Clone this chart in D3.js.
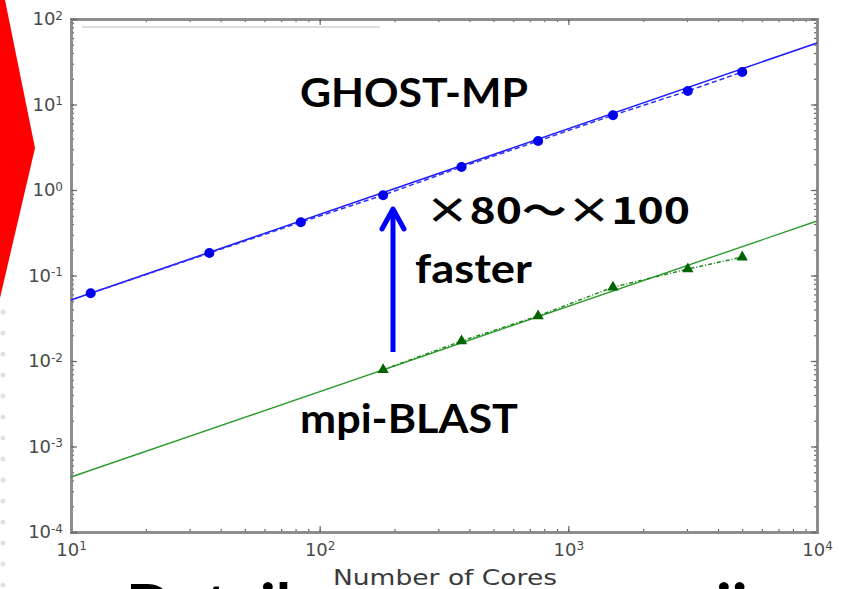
<!DOCTYPE html>
<html><head><meta charset="utf-8">
<script src="https://cdn.jsdelivr.net/npm/d3@7"></script>
<style>body{margin:0;background:#fff;} svg{display:block;}</style>
</head><body>
<svg id="c" width="848" height="589"></svg>
<script>
// Data
const ghostCores = [12, 36, 84, 180, 372, 756, 1512, 3024, 5004];
const ghostSpeed = [0.062, 0.183, 0.42, 0.87, 1.86, 3.74, 7.5, 14.4, 24.0];
const blastCores = [180, 372, 756, 1512, 3024, 5004];
const blastSpeed = [0.0079, 0.0171, 0.0336, 0.073, 0.119, 0.164];
const fitCores = [10, 10000];
const ghostFit = [0.0516, 52.4];
const blastFit = [0.00044, 0.434];
const xMajor = [10, 100, 1000, 10000];
const yMajor = [1e-4, 1e-3, 1e-2, 1e-1, 1, 10, 100];
const xLabel = "Number of Cores";

const svg = d3.select("#c");
const L = 71, R = 817, T = 19, B = 532;
const x = d3.scaleLog().domain([10, 1e4]).range([L, R]);
const y = d3.scaleLog().domain([1e-4, 1e2]).range([B, T]);

// red slide shape on left
svg.append("path").attr("d", "M0,0 L5,0 L35,148 L0,298 Z").attr("fill", "#ff0000");
// slide border dots
d3.range(0, 14).forEach(i => {
  svg.append("circle").attr("cx", 3).attr("cy", 312 + i * 21).attr("r", 2.5).attr("fill", "#e2e2e2");
});

function supLabel(sel) {
  sel.each(function(d) {
    const t = d3.select(this);
    const e = Math.round(Math.log10(d));
    t.text("10");
    t.append("tspan").attr("dy", "-0.45em").attr("font-size", "12px").text(String(e));
  });
}
const axColor = "#8a8a8a";
function styleAxis(g) {
  g.select(".domain").attr("stroke", axColor).attr("stroke-width", 2.5);
  g.selectAll(".tick line").attr("stroke", "#666").attr("stroke-width", 1.2);
  g.selectAll("text").attr("fill", "#4a4a4a").attr("font-family", "DejaVu Sans").attr("font-size", "18px");
}
const allX = x.ticks(), allY = y.ticks();
// minor ticks
svg.append("g").attr("transform", `translate(0,${B})`).call(d3.axisBottom(x).tickValues(allX).tickSize(-3).tickFormat("")).call(styleAxis);
svg.append("g").attr("transform", `translate(0,${T})`).call(d3.axisTop(x).tickValues(allX).tickSize(-3).tickFormat("")).call(styleAxis);
svg.append("g").attr("transform", `translate(${L},0)`).call(d3.axisLeft(y).tickValues(allY).tickSize(-3).tickFormat("")).call(styleAxis);
svg.append("g").attr("transform", `translate(${R},0)`).call(d3.axisRight(y).tickValues(allY).tickSize(-3).tickFormat("")).call(styleAxis);
// major ticks
const gx = svg.append("g").attr("transform", `translate(0,${B})`).call(d3.axisBottom(x).tickValues(xMajor).tickSize(-6).tickPadding(11)).call(styleAxis);
gx.selectAll(".tick text").call(supLabel);
svg.append("g").attr("transform", `translate(0,${T})`).call(d3.axisTop(x).tickValues(xMajor).tickSize(-6).tickFormat("")).call(styleAxis);
const gy = svg.append("g").attr("transform", `translate(${L},0)`).call(d3.axisLeft(y).tickValues(yMajor).tickSize(-6).tickPadding(8)).call(styleAxis);
gy.selectAll(".tick text").call(supLabel);
svg.append("g").attr("transform", `translate(${R},0)`).call(d3.axisRight(y).tickValues(yMajor).tickSize(-6).tickFormat("")).call(styleAxis);

// legend frame remnant
svg.append("line").attr("x1", 82).attr("x2", 380).attr("y1", 27).attr("y2", 27).attr("stroke", "#bbb").attr("stroke-width", 1);

const plot = svg.append("g");
const line = d3.line().x(d => x(d[0])).y(d => y(d[1]));
// fit lines
plot.append("path").attr("d", line(d3.zip(fitCores, ghostFit))).attr("fill", "none").attr("stroke", "#1a1aff").attr("stroke-width", 1.6);
plot.append("path").attr("d", line(d3.zip(fitCores, blastFit))).attr("fill", "none").attr("stroke", "#2e9a2e").attr("stroke-width", 1.4);
// data lines
plot.append("path").attr("d", line(d3.zip(ghostCores, ghostSpeed))).attr("fill", "none").attr("stroke", "#3030ff").attr("stroke-width", 1.5).attr("stroke-dasharray", "5,3");
plot.append("path").attr("d", line(d3.zip(blastCores, blastSpeed))).attr("fill", "none").attr("stroke", "#1e8a1e").attr("stroke-width", 1.5).attr("stroke-dasharray", "4,2,1,2");
// markers
plot.selectAll("circle.g").data(d3.zip(ghostCores, ghostSpeed)).enter().append("circle")
  .attr("cx", d => x(d[0])).attr("cy", d => y(d[1])).attr("r", 5).attr("fill", "#0000ee");
const tri = d3.symbol().type(d3.symbolTriangle).size(55);
plot.selectAll("path.t").data(d3.zip(blastCores, blastSpeed)).enter().append("path")
  .attr("d", tri).attr("transform", d => `translate(${x(d[0])},${y(d[1])})`).attr("fill", "#006400");

// slide text cut at bottom
svg.append("text").attr("x", 126).attr("y", 628).attr("font-family", "Lato").attr("font-weight", "bold").attr("font-size", "62px").attr("fill", "#000").text("Detail");
svg.append("text").attr("x", 716).attr("y", 628).attr("font-family", "Lato").attr("font-weight", "bold").attr("font-size", "62px").attr("fill", "#000").text("ii");

// x label
svg.append("text").attr("x", 445).attr("y", 585).attr("text-anchor", "middle")
  .attr("font-family", "DejaVu Sans").attr("font-size", "22px").attr("fill", "#3a3a3a")
  .attr("textLength", 224).attr("lengthAdjust", "spacingAndGlyphs").text(xLabel);

// annotations
const ann = (t, xx, yy, fs, len, fam) => svg.append("text").attr("x", xx).attr("y", yy)
  .attr("font-family", fam || "Lato").attr("font-weight", "bold").attr("font-size", fs + "px").attr("fill", "#000")
  .attr("textLength", len).attr("lengthAdjust", "spacingAndGlyphs").text(t);
ann("GHOST-MP", 300, 107, 41, 228);
ann("\u00D780\uFF5E\u00D7100", 425, 224, 36, 265, "Noto Sans CJK JP");
ann("faster", 415, 283, 40, 117);
ann("mpi-BLAST", 300, 433, 41, 218);

// blue arrow
svg.append("line").attr("x1", 393).attr("x2", 393).attr("y1", 352).attr("y2", 210).attr("stroke", "#0000ff").attr("stroke-width", 5);
svg.append("path").attr("d", "M382,229 L393,209 L404,229").attr("fill", "none").attr("stroke", "#0000ff").attr("stroke-width", 5).attr("stroke-linejoin", "round").attr("stroke-linecap", "round");
</script>
</body></html>
